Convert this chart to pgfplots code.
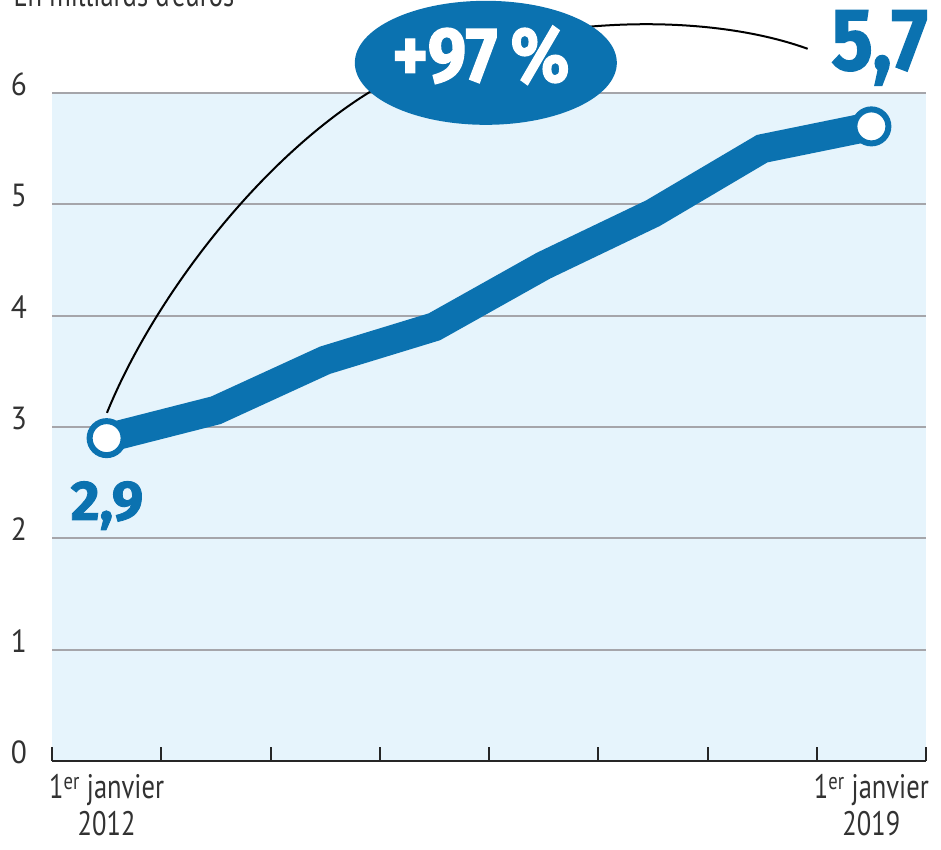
\documentclass[border=0pt]{standalone}
\usepackage{pgfplots}
\pgfplotsset{compat=1.18}
\usetikzlibrary{shapes.geometric}
\usepackage{fontspec}
\setmainfont{PT Sans}[FakeStretch=0.78]
\newfontfamily\ylabfont{PT Sans}[FakeStretch=0.92]
\newfontfamily\numfont{Fira Sans}[FakeStretch=0.88, BoldFeatures={FakeBold=1.5}]
\newfontfamily\numfontw{Fira Sans}[BoldFeatures={FakeBold=1.5}]
\definecolor{lebleu}{RGB}{11,114,176}
\definecolor{fondbleu}{RGB}{230,244,252}
\definecolor{grille}{RGB}{165,165,170}
\definecolor{texte}{RGB}{50,50,50}
\pgfplotstableread{
x y
0.5 2.9
1.5 3.15
2.5 3.6
3.5 3.9
4.5 4.45
5.5 4.92
6.5 5.5
7.5 5.7
}\datatable
\begin{document}
\begin{tikzpicture}
\useasboundingbox (-52pt,-89pt) rectangle (889pt,761pt);
\begin{axis}[
  scale only axis, width=874pt, height=668pt,
  xmin=0, xmax=8, ymin=0, ymax=6,
  clip=false,
  axis x line*=bottom, axis y line*=left,
  y axis line style={draw=none},
  x axis line style={line width=2.5pt, color=black!85, -},
  xtick={0,...,8}, xticklabels={},
  major tick length=14pt, tick align=inside,
  xtick style={line width=2pt, color=black!85},
  ytick={0,...,6}, ytick style={draw=none},
  ymajorgrids, grid style={line width=2pt, grille},
  axis background/.style={fill=fondbleu},
  /pgf/number format/assume math mode=true,
  yticklabel style={anchor=center, xshift=-33pt, yshift=9pt, font=\ylabfont\fontsize{32}{34}\selectfont, text=texte},
  extra x ticks={0.5,7.5},
  extra x tick labels={{1\textsuperscript{er} janvier\\2012},{1\textsuperscript{er} janvier\\2019}},
  extra x tick style={major tick length=0pt, tick style={draw=none},
     xticklabel style={align=center, anchor=north, yshift=-10pt, font=\fontsize{34}{37}\selectfont, text=texte}},
]
\draw[black, line width=2pt]
  (axis cs:0.503,3.127) .. controls (axis cs:0.960,4.232) and (axis cs:2.040,5.580) .. (axis cs:3.138,6.137)
  .. controls (axis cs:4.282,6.694) and (axis cs:5.929,6.748) .. (axis cs:6.917,6.397);
\addplot[lebleu, line width=29pt, mark=*, mark indices={1,8}, mark size=17pt,
  mark options={fill=white, draw=lebleu, line width=6pt}] table[x=x,y=y] {\datatable};
\node[ellipse, fill=lebleu, minimum width=262pt, minimum height=124pt, inner sep=0pt] at (axis cs:3.971,6.271) {};
\node[anchor=base, text=white, font=\numfont\bfseries\fontsize{78}{78}\selectfont] at (axis cs:3.925,6.101) {+97\,\%};
\node[anchor=base, text=lebleu, font=\numfont\bfseries\fontsize{88}{88}\selectfont] at (axis cs:7.575,6.208) {5,7};
\node[anchor=base, text=lebleu, font=\numfontw\bfseries\fontsize{56}{56}\selectfont] at (axis cs:0.503,2.165) {2,9};
\end{axis}
\node[anchor=base west, text=texte, font=\fontsize{34}{37}\selectfont] at (-42pt,754pt) {En milliards d’euros};
\end{tikzpicture}
\end{document}
